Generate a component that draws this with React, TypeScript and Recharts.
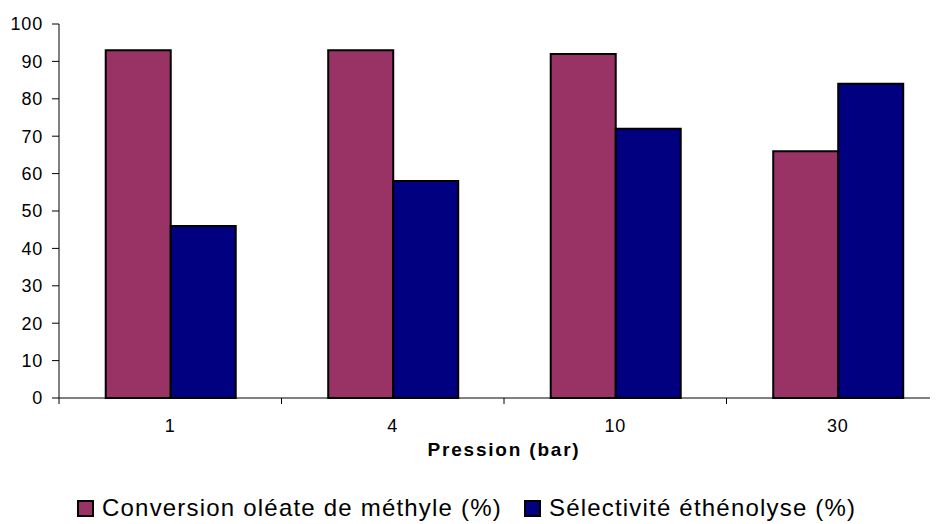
import React from 'react';
import { BarChart, Bar, XAxis, YAxis, Legend } from 'recharts';

const categories = ['1', '4', '10', '30'];
const conversion = [93, 93, 92, 66];
const selectivite = [46, 58, 72, 84];
const yTicks = [0, 10, 20, 30, 40, 50, 60, 70, 80, 90, 100];
const seriesNames = ['Conversion oléate de méthyle (%)', 'Sélectivité éthénolyse (%)'];
const seriesColors = ['#993366', '#000080'];
const xTitle = 'Pression (bar)';

const data = categories.map((c, i) => ({
  pression: c,
  conversion: conversion[i],
  selectivite: selectivite[i],
}));

const FONT = '"Liberation Sans", Arial, sans-serif';
const X_TICK_MARGIN = 21;
const X_TICK_LEN = 6;

const renderLegend = (props: any) => {
  const payload = props.payload || [];
  return (
    <div
      style={{
        display: 'flex',
        alignItems: 'center',
        fontFamily: FONT,
        fontSize: 24,
        letterSpacing: 1.2,
        color: '#000',
        whiteSpace: 'nowrap',
        lineHeight: '28px',
      }}
    >
      {payload.map((p: any, i: number) => (
        <span key={i} style={{ display: 'flex', alignItems: 'center', marginLeft: i ? 22 : 0 }}>
          <span
            style={{
              width: 13,
              height: 13,
              border: '2px solid #000',
              background: seriesColors[i],
              display: 'inline-block',
            }}
          />
          <span style={{ marginLeft: 8 }}>{p.value}</span>
        </span>
      ))}
    </div>
  );
};

// Category tick: label at the band centre, tick marks at the band boundaries (Excel style)
const CategoryTick = (props: any) => {
  const { x, y, payload, index, visibleTicksCount } = props;
  const half = payload && typeof payload.offset === 'number' ? payload.offset : 0;
  const axisY = y - X_TICK_MARGIN;
  const isLast = index === visibleTicksCount - 1;
  return (
    <g>
      {half > 0 && (
        <line x1={x - half} x2={x - half} y1={axisY} y2={axisY + X_TICK_LEN} stroke="#000" />
      )}
      {half > 0 && isLast && (
        <line x1={x + half} x2={x + half} y1={axisY} y2={axisY + X_TICK_LEN} stroke="#000" />
      )}
      <text
        x={x}
        y={y}
        dy="0.71em"
        textAnchor="middle"
        fill="#000"
        fontSize={18}
        fontFamily={FONT}
        letterSpacing={0.8}
      >
        {payload.value}
      </text>
    </g>
  );
};

export default function App() {
  return (
    <div style={{ width: 930, height: 516, overflow: 'hidden', position: 'relative' }}>
      <BarChart
        width={950}
        height={516}
        data={data}
        margin={{ top: 16, right: 9, left: 0, bottom: 66 }}
        barCategoryGap="21%"
        barGap={0}
      >
        <XAxis
          dataKey="pression"
          height={60}
          tickLine={false}
          tickSize={0}
          tickMargin={X_TICK_MARGIN}
          axisLine={{ stroke: '#000' }}
          tick={CategoryTick}
          interval={0}
          label={{
            value: xTitle,
            position: 'insideBottom',
            offset: 2,
            style: { fontSize: 19, fontWeight: 'bold', fill: '#000', fontFamily: FONT, letterSpacing: 1.8 },
          }}
        />
        <YAxis
          width={51}
          domain={[0, 100]}
          ticks={yTicks}
          interval={0}
          tickSize={7}
          tickMargin={9}
          axisLine={{ stroke: '#000' }}
          tickLine={{ stroke: '#000' }}
          tick={{ fontSize: 18, fill: '#000', fontFamily: FONT, letterSpacing: 0.8 }}
        />
        <Legend
          layout="horizontal"
          verticalAlign="middle"
          align="center"
          content={renderLegend}
          wrapperStyle={{ top: 486, left: 69, width: 'auto' }}
        />
        <Bar
          dataKey="conversion"
          name={seriesNames[0]}
          fill={seriesColors[0]}
          stroke="#000"
          strokeWidth={2}
          isAnimationActive={false}
        />
        <Bar
          dataKey="selectivite"
          name={seriesNames[1]}
          fill={seriesColors[1]}
          stroke="#000"
          strokeWidth={2}
          isAnimationActive={false}
        />
      </BarChart>
    </div>
  );
}
